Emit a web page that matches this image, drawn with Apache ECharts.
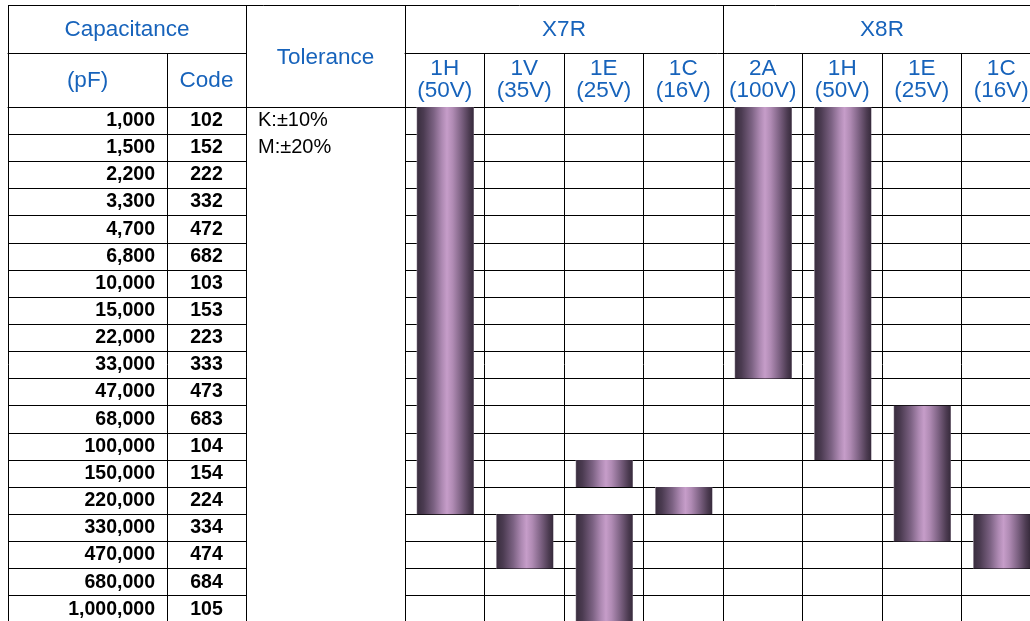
<!DOCTYPE html>
<html><head><meta charset="utf-8">
<script src="https://cdn.jsdelivr.net/npm/echarts@6/dist/echarts.min.js"></script>
<style>html,body{margin:0;padding:0;background:#fff}#c{width:1030px;height:621px}</style>
</head><body><div id="c"></div>
<script>
// ---- data ----
const capacitances = ['1,000','1,500','2,200','3,300','4,700','6,800','10,000','15,000','22,000','33,000','47,000','68,000','100,000','150,000','220,000','330,000','470,000','680,000','1,000,000'];
const codes = ['102','152','222','332','472','682','103','153','223','333','473','683','104','154','224','334','474','684','105'];
const tolerances = ['K:±10%','M:±20%'];
const dielectrics = ['X7R','X8R'];
const voltageCodes = ['1H','1V','1E','1C','2A','1H','1E','1C'];
const voltages = ['50V','35V','25V','16V','100V','50V','25V','16V'];
// available ranges: column index, first capacitance, last capacitance
const barColumn = [0, 1, 2, 2, 3, 4, 5, 6, 7];
const barFrom = ['1,000','330,000','150,000','330,000','220,000','1,000','1,000','68,000','330,000'];
const barTo   = ['220,000','470,000','150,000','1,000,000','220,000','33,000','100,000','330,000','470,000'];

// ---- layout / style ----
const FONT = '"Liberation Sans", Arial, Helvetica, sans-serif';
const BLUE = '#1763bb';
const LINE = {color:'#000', width:1};
const CW = 1030;
const L = {top:5, mid:53, head:107, rowH:27.15, x0:8, xCode:167, xTol:246, xMain:405, colW:79.5};
const gridH = L.rowH * capacitances.length;
const mainRight = L.xMain + L.colW * voltageCodes.length;

const colLabels = voltageCodes.map((c,i)=> c + '\n(' + voltages[i] + ')');
const tolAxis = capacitances.map((_,i)=> tolerances[i] || '');
const barData = barColumn.map((c,i)=>[c, capacitances.indexOf(barFrom[i]), capacitances.indexOf(barTo[i])]);

const headLabel = (margin) => ({show:true, color:BLUE, fontFamily:FONT, fontSize:22.5, lineHeight:22, margin:margin, interval:0});
const hidden = {show:false};
const box = (l, r) => ({left:l, width:r - l, top:L.head, height:gridH, containLabel:false, outerBoundsMode:'none'});

const gradient = {type:'linear', x:0, y:0, x2:1, y2:0, colorStops:[
  {offset:0, color:'#a398a6'},
  {offset:0.018, color:'#3b2f40'},
  {offset:0.12, color:'#4b3b51'},
  {offset:0.3, color:'#7c6283'},
  {offset:0.44, color:'#ad89b2'},
  {offset:0.53, color:'#c69dc9'},
  {offset:0.63, color:'#b08bb4'},
  {offset:0.78, color:'#7d6283'},
  {offset:0.92, color:'#4c3b51'},
  {offset:0.985, color:'#3a2d3f'},
  {offset:1, color:'#6a5d6e'}
]};

const chart = echarts.init(document.getElementById('c'), null, {renderer:'canvas'});
chart.setOption({
  animation:false,
  backgroundColor:'#fff',
  grid:[
    box(L.xMain, mainRight),
    box(L.x0, L.xCode),
    box(L.xCode, L.xTol),
    box(L.xTol, L.xMain),
    box(L.x0, L.xTol)
  ],
  xAxis:[
    {gridIndex:0, type:'category', position:'top', data:colLabels, boundaryGap:true,
     axisLine:{show:true, lineStyle:LINE}, axisTick:{show:true, length:L.head-L.mid, interval:0, lineStyle:LINE},
     splitLine:{show:true, interval:0, lineStyle:LINE}, axisLabel:headLabel(5)},
    {gridIndex:0, type:'category', position:'top', offset:L.head-L.mid, data:dielectrics, boundaryGap:true,
     axisLine:{show:true, lineStyle:LINE}, axisTick:{show:true, length:L.mid-L.top, interval:0, lineStyle:LINE},
     splitLine:hidden, axisLabel:headLabel(12)},
    {gridIndex:1, type:'category', position:'top', data:['(pF)'],
     axisLine:{show:true, lineStyle:LINE}, axisTick:{show:true, length:L.head-L.mid, lineStyle:LINE},
     splitLine:hidden, axisLabel:headLabel(15)},
    {gridIndex:2, type:'category', position:'top', data:['Code'],
     axisLine:{show:true, lineStyle:LINE}, axisTick:{show:true, length:L.head-L.mid, lineStyle:LINE},
     splitLine:hidden, axisLabel:headLabel(15)},
    {gridIndex:3, type:'category', position:'top', data:['Tolerance'],
     axisLine:{show:true, lineStyle:LINE}, axisTick:{show:true, length:L.head-L.top, lineStyle:LINE},
     splitLine:hidden, axisLabel:headLabel(38)},
    {gridIndex:4, type:'category', position:'top', offset:L.head-L.mid, data:['Capacitance'],
     axisLine:{show:true, lineStyle:LINE}, axisTick:{show:true, length:L.mid-L.top, lineStyle:LINE},
     splitLine:hidden, axisLabel:headLabel(12)}
  ],
  yAxis:[
    {gridIndex:0, type:'category', inverse:true, data:capacitances, position:'left',
     axisLine:{show:true, lineStyle:LINE}, axisTick:hidden, axisLabel:hidden,
     splitLine:{show:true, interval:0, lineStyle:LINE}},
    {gridIndex:1, type:'category', inverse:true, data:capacitances, position:'right',
     axisLine:{show:true, lineStyle:LINE}, axisTick:hidden,
     axisLabel:{show:true, inside:true, align:'right', margin:12, interval:0, color:'#000', fontWeight:'bold', fontSize:19.5, fontFamily:FONT},
     splitLine:{show:true, interval:0, lineStyle:LINE}},
    {gridIndex:1, type:'category', inverse:true, data:capacitances, position:'left',
     axisLine:{show:true, lineStyle:LINE}, axisTick:hidden, axisLabel:hidden, splitLine:hidden},
    {gridIndex:2, type:'category', inverse:true, data:codes, position:'right',
     axisLine:{show:true, lineStyle:LINE}, axisTick:hidden,
     axisLabel:{show:true, inside:true, align:'center', margin:(L.xTol-L.xCode)/2, interval:0, color:'#000', fontWeight:'bold', fontSize:19.5, fontFamily:FONT},
     splitLine:{show:true, interval:0, lineStyle:LINE}},
    {gridIndex:3, type:'category', inverse:true, data:tolAxis, position:'left',
     axisLine:{show:true, lineStyle:LINE}, axisTick:hidden,
     axisLabel:{show:true, inside:true, align:'left', margin:12, interval:0, color:'#000', fontSize:20, fontFamily:FONT},
     splitLine:hidden},
    {gridIndex:4, type:'category', inverse:true, data:capacitances, show:false}
  ],
  graphic:[
    {type:'line', silent:true, shape:{x1:L.x0, y1:L.top+0.5, x2:mainRight, y2:L.top+0.5}, style:{stroke:'#000', lineWidth:1}}
  ],
  series:[{
    type:'custom', xAxisIndex:0, yAxisIndex:0, data:barData, encode:{x:0, y:[1,2]},
    renderItem:function(params, api){
      const col = api.value(0), from = api.value(1), to = api.value(2);
      const p0 = api.coord([col, from]);
      const p1 = api.coord([col, to]);
      const band = api.size([1, 1]);
      const bw = band[0] * 0.72;
      const x = p0[0] - bw/2 + 0.5;
      const y = p0[1] - band[1]/2;
      const h = p1[1] - p0[1] + band[1];
      return {type:'rect', shape:{x:x, y:y, width:bw, height:h}, style:{fill:gradient}};
    }
  }]
});
</script>
</body></html>
